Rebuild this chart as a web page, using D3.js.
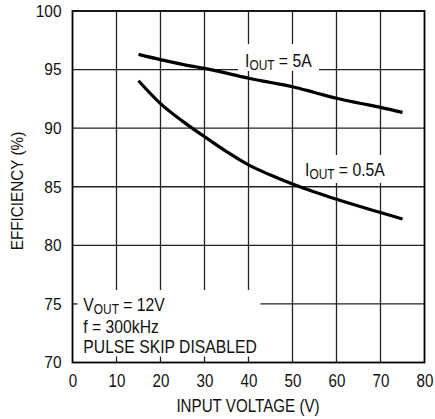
<!DOCTYPE html>
<html>
<head>
<meta charset="utf-8">
<script src="https://cdn.jsdelivr.net/npm/d3@7"></script>
<style>
    body { margin: 0; background: #fff; }
    svg text { font-family: "Liberation Sans", Arial, sans-serif; fill: #111; }
</style>
</head>
<body>
<svg id="chart" width="435" height="419"></svg>
<script>
// input voltage (V)
var vin = [15, 20, 25, 30, 35, 40, 45, 50, 55, 60, 65, 70, 75];
// efficiency (%) for each load
var eff5A = [96.3, 95.85, 95.45, 95.1, 94.7, 94.26, 93.9, 93.54, 93.05, 92.55, 92.15, 91.78, 91.35];
var eff05A = [94.05, 92.1, 90.6, 89.27, 88.0, 86.86, 86.0, 85.23, 84.55, 83.93, 83.35, 82.8, 82.25];

var xTicks = [0, 10, 20, 30, 40, 50, 60, 70, 80];
var yTicks = [70, 75, 80, 85, 90, 95, 100];

var svg = d3.select('#chart');

var margin = { left: 72.5, top: 11, right: 10.5, bottom: 56.5 };
var W = 435 - margin.left - margin.right,
    H = 419 - margin.top - margin.bottom;

var x = d3.scaleLinear().domain([0, 80]).range([margin.left, margin.left + W]);
var y = d3.scaleLinear().domain([70, 100]).range([margin.top + H, margin.top]);

var g = svg.append('g');

// condensed text: a group squeezed horizontally
function txt(px, py, size, sx, anchor, rot) {
    var tr = 'translate(' + px + ',' + py + ')' + (rot ? ' rotate(' + rot + ')' : '') + ' scale(' + sx + ',1)';
    return g.append('g').attr('transform', tr)
        .append('text')
        .attr('text-anchor', anchor || 'start')
        .style('font-size', size + 'px');
}

// grid
g.selectAll('.vgrid').data(xTicks.slice(1, -1)).enter().append('line')
    .attr('x1', function (d) { return x(d); })
    .attr('x2', function (d) { return x(d); })
    .attr('y1', y(100)).attr('y2', y(70))
    .attr('stroke', '#222').attr('stroke-width', 1.3);

g.selectAll('.hgrid').data(yTicks.slice(1, -1)).enter().append('line')
    .attr('y1', function (d) { return y(d); })
    .attr('y2', function (d) { return y(d); })
    .attr('x1', x(0)).attr('x2', x(80))
    .attr('stroke', '#222').attr('stroke-width', 1.3);

// white boxes behind labels
g.append('rect').attr('x', 238).attr('y', 44).attr('width', 81).attr('height', 27).attr('fill', '#fff');
g.append('rect').attr('x', 300).attr('y', 155).attr('width', 95).attr('height', 28).attr('fill', '#fff');
g.append('rect').attr('x', x(0) + 1).attr('y', 290).attr('width', 187).attr('height', y(70) - 290).attr('fill', '#fff');

// small ticks inside the note box
g.selectAll('.btick').data([10, 20, 30, 40]).enter().append('line')
    .attr('x1', function (d) { return x(d); })
    .attr('x2', function (d) { return x(d); })
    .attr('y1', y(70) - 6).attr('y2', y(70))
    .attr('stroke', '#222').attr('stroke-width', 1.3);
g.append('line')
    .attr('x1', x(0)).attr('x2', x(0) + 5)
    .attr('y1', y(75)).attr('y2', y(75))
    .attr('stroke', '#222').attr('stroke-width', 1.3);

// curves
var line = d3.line()
    .x(function (d) { return x(d[0]); })
    .y(function (d) { return y(d[1]); })
    .curve(d3.curveMonotoneX);

[eff5A, eff05A].forEach(function (series) {
    g.append('path')
        .datum(vin.map(function (v, i) { return [v, series[i]]; }))
        .attr('d', line)
        .attr('fill', 'none')
        .attr('stroke', '#000')
        .attr('stroke-width', 3.2);
});

// frame
g.append('rect')
    .attr('x', x(0)).attr('y', y(100))
    .attr('width', W).attr('height', H)
    .attr('fill', 'none').attr('stroke', '#000').attr('stroke-width', 1.8);

// tick labels
xTicks.forEach(function (d) {
    txt(x(d) + 0.5, 387.3, 18.5, 0.82, 'middle').text(d);
});
yTicks.forEach(function (d) {
    txt(61.5, y(d) + 5.8, 16.3, 0.95, 'end').text(d);
});

// axis titles
txt(248, 411.7, 18.5, 0.82, 'middle').text('INPUT VOLTAGE (V)');
txt(23, 191, 17, 0.9, 'middle', -90).text('EFFICIENCY (%)');

// labels with subscripts
function subLabel(px, py, main, sub, rest) {
    var t = txt(px, py, 18.5, 0.85, 'start');
    t.append('tspan').text(main);
    t.append('tspan').attr('dy', 3).style('font-size', '14px').text(sub);
    t.append('tspan').attr('dy', -3).text(rest);
    return t;
}

subLabel(245, 66.7, 'I', 'OUT', ' = 5A');
subLabel(305, 176, 'I', 'OUT', ' = 0.5A');
subLabel(83.3, 310.7, 'V', 'OUT', ' = 12V');

txt(83.3, 332.7, 18.5, 0.85).text('f = 300kHz');
txt(83.3, 353.3, 18.5, 0.85).text('PULSE SKIP DISABLED');
</script>
</body>
</html>
